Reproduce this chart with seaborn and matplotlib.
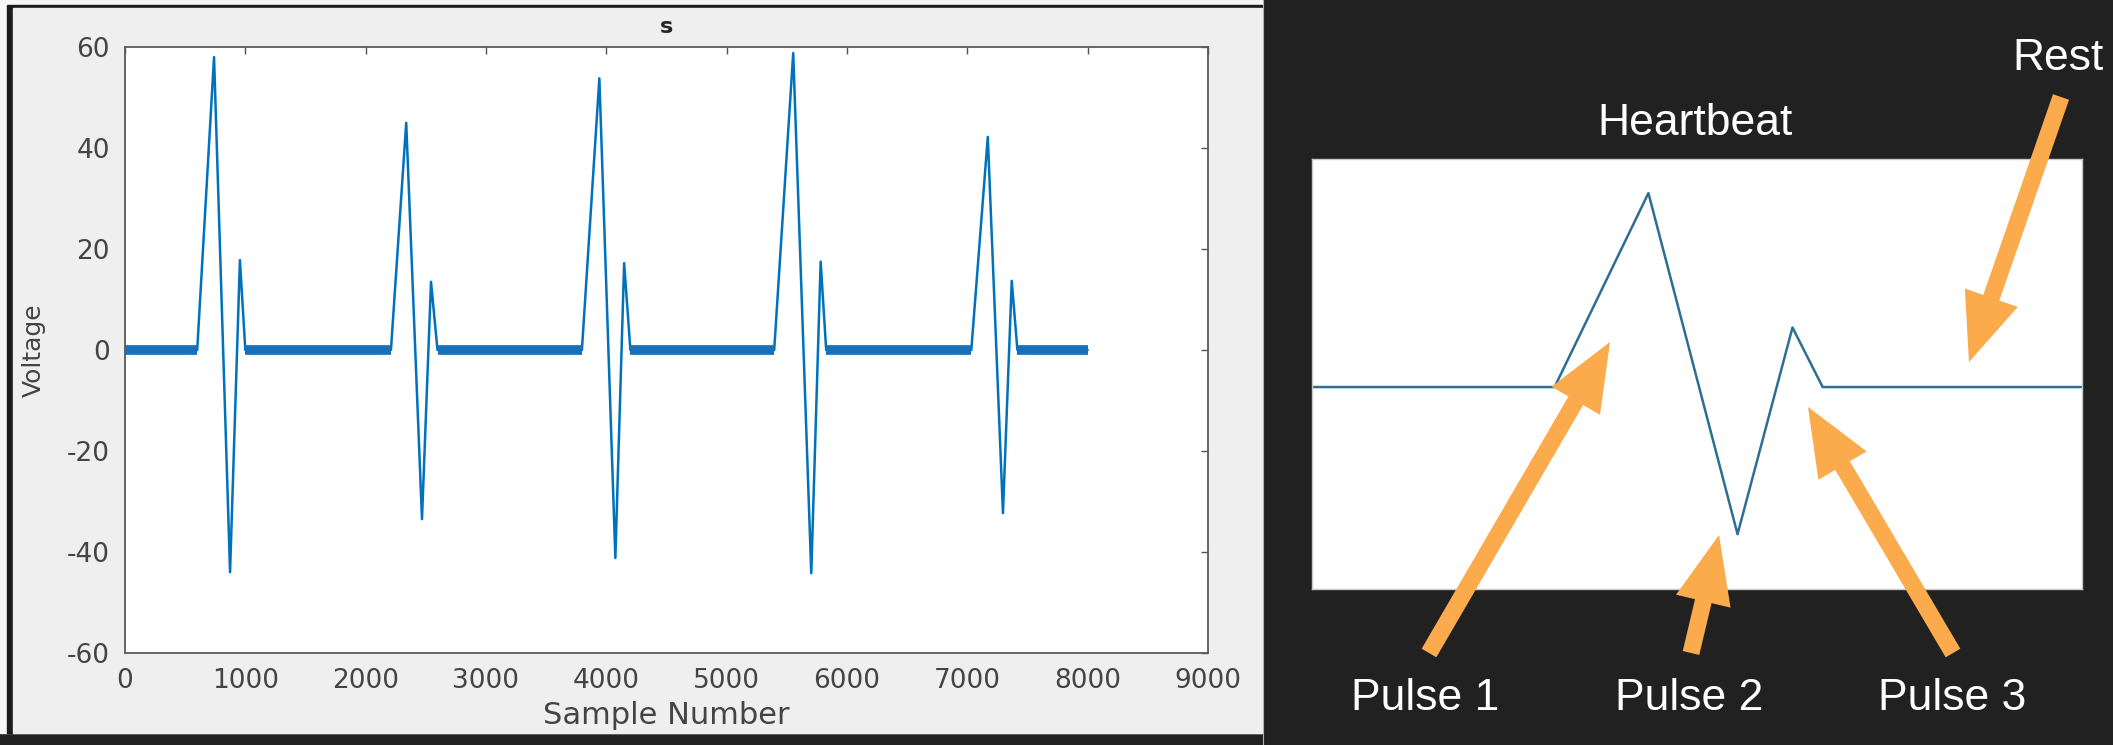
import numpy as np
import pandas as pd
import seaborn as sns
import matplotlib.pyplot as plt
from matplotlib.patches import Rectangle, FancyArrow

sample_number = [0, 600, 740, 873, 955, 1000,
                 2210, 2337, 2468, 2543, 2597,
                 3797, 3942, 4075, 4148, 4200,
                 5395, 5553, 5703, 5781, 5827,
                 7033, 7170, 7296, 7369, 7416, 8000]
voltage = [0, 0, 58, -44, 17.8, 0,
           0, 45, -33.5, 13.5, 0,
           0, 53.8, -41.2, 17.2, 0,
           0, 58.8, -44.2, 17.5, 0,
           0, 42.2, -32.3, 13.7, 0, 0]

x_ticks = [0, 1000, 2000, 3000, 4000, 5000, 6000, 7000, 8000, 9000]
y_ticks = [-60, -40, -20, 0, 20, 40, 60]

# the right panel is a close-up of the first beat
beat_window = [238, 1387]
beat_voltage_window = [-60.4, 68.2]

pulse_labels = ['Pulse 1', 'Pulse 2', 'Pulse 3']

df = pd.DataFrame({'Sample Number': sample_number, 'Voltage': voltage})

# flat stretches between beats (drawn as the thick noisy band)
rest_rows = []
for i in range(len(df) - 1):
    if voltage[i] == 0 and voltage[i + 1] == 0:
        rest_rows.append({'Sample Number': sample_number[i], 'Voltage': 0, 'seg': i})
        rest_rows.append({'Sample Number': sample_number[i + 1], 'Voltage': 0, 'seg': i})
rest = pd.DataFrame(rest_rows)

sns.set_theme(style='white')
plt.rcParams['font.family'] = ['DejaVu Sans']
plt.rcParams['axes.unicode_minus'] = False

W, H = 2113, 745


def box(l, t, r, b):
    # pixel box (top-left origin) -> figure fraction rect
    return [l / W, 1 - b / H, (r - l) / W, (b - t) / H]


fig = plt.figure(figsize=(W / 100, H / 100), dpi=100, facecolor='#212121')

# background: grey matlab window on the left, dark slide on the right
bg = fig.add_axes([0, 0, 1, 1], zorder=-10)
bg.set_xlim(0, W)
bg.set_ylim(H, 0)
bg.axis('off')
bg.add_patch(Rectangle((0, 0), 1262, 733, color='#f6f6f6'))
bg.add_patch(Rectangle((7, 5), 1255, 728, color='#1c1c1c'))
bg.add_patch(Rectangle((13, 8), 1249, 725, color='#efefef'))
grad = np.linspace(0.0, 1.0, 40)[None, :]
bg.imshow(grad, extent=(1222, 1262, 733, 8), cmap='Greys', vmin=-5, vmax=5,
          aspect='auto', interpolation='bilinear')
bg.plot([1262.5, 1262.5], [0, H], color='#b0b0b0', lw=0.8)

# main signal plot
ax = fig.add_axes(box(125, 47, 1208, 653))
ax.set_facecolor('white')
sns.lineplot(data=df, x='Sample Number', y='Voltage', estimator=None, sort=False,
             color='#0072BD', lw=1.8, ax=ax)
sns.lineplot(data=rest, x='Sample Number', y='Voltage', units='seg', estimator=None,
             color='#1870bb', lw=7, ax=ax, solid_capstyle='butt')
ax.set_xlim(0, 9000)
ax.set_ylim(-60, 60)
ax.set_xticks(x_ticks)
ax.set_yticks(y_ticks)
ax.tick_params(direction='in', length=5, width=1, top=True, right=True,
               colors='#555555', labelcolor='#444444', labelsize=19)
ax.tick_params(axis='x', pad=11)
ax.tick_params(axis='y', pad=11)
for s in ax.spines.values():
    s.set_color('#5a5a5a')
    s.set_linewidth(1.3)
ax.set_title('s', fontsize=16, fontweight='bold', pad=10)
ax.set_xlabel('Sample Number', fontsize=22, color='#444444')
ax.set_ylabel('Voltage', fontsize=18, color='#444444')
ax.xaxis.set_label_coords(0.5, -0.08)
ax.yaxis.set_label_coords(-0.073, 0.5)

# close-up of one heartbeat
ins = fig.add_axes(box(1312, 159, 2082, 589))
ins.set_facecolor('white')
sns.lineplot(data=df, x='Sample Number', y='Voltage', estimator=None, sort=False,
             color='#2d6f93', lw=1.8, ax=ins)
ins.set_xlim(*beat_window)
ins.set_ylim(*beat_voltage_window)
ins.set_xticks([])
ins.set_yticks([])
ins.set_xlabel('')
ins.set_ylabel('')
for s in ins.spines.values():
    s.set_color('#c8c8c8')
    s.set_linewidth(1)

# annotations on top of everything, in pixel coordinates
ov = fig.add_axes([0, 0, 1, 1], zorder=10)
ov.set_xlim(0, W)
ov.set_ylim(H, 0)
ov.patch.set_alpha(0)
ov.axis('off')

arrow_color = '#fbaa4c'
arrows = [((1429, 653), (1610, 342)),
          ((1691, 653), (1719, 535)),
          ((1953, 653), (1808, 407)),
          ((2061, 97), (1969, 362))]
for (x0, y0), (x1, y1) in arrows:
    ov.add_patch(FancyArrow(x0, y0, x1 - x0, y1 - y0, width=17, head_width=56,
                            head_length=68, length_includes_head=True,
                            color=arrow_color, lw=0))

txt = dict(color='white', fontsize=32, family=['Liberation Sans'],
           ha='center', va='baseline')
ov.text(1695, 135, 'Heartbeat', **txt)
ov.text(2058, 70, 'Rest', **txt)
for label, xc in zip(pulse_labels, [1425, 1689, 1952]):
    ov.text(xc, 710, label, **txt)

fig.savefig('out.png', dpi=100, facecolor=fig.get_facecolor())
